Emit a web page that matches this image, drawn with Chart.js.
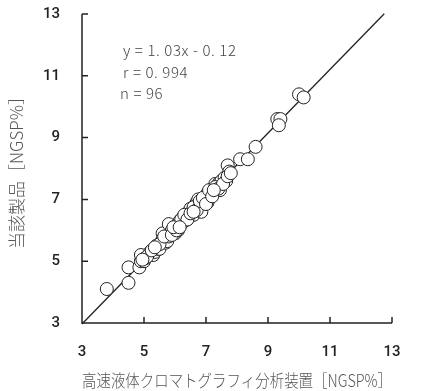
<!DOCTYPE html>
<html><head><meta charset="utf-8">
<script src="https://cdn.jsdelivr.net/npm/chart.js@4.4.0/dist/chart.umd.min.js"></script>
<style>html,body{margin:0;padding:0;background:#fff;}#wrap{width:433px;height:391px;}</style>
</head><body><div id="wrap"><canvas id="c" width="433" height="391"></canvas></div>
<script>
const xTicks = [3, 5, 7, 9, 11, 13];
const yTicks = [3, 5, 7, 9, 11, 13];
const hplcX = [3.8,4.5,4.5,4.85,4.9,4.9,5.0,5.05,5.2,5.2,5.3,5.35,5.4,5.45,5.5,5.55,5.6,5.6,5.7,5.75,5.8,5.8,5.85,5.9,6.0,6.0,6.05,6.1,6.15,6.2,6.25,6.3,6.35,6.4,6.45,6.5,6.55,6.6,6.65,6.7,6.75,6.8,6.85,6.9,6.95,7.0,7.05,7.05,7.1,7.15,7.2,7.3,7.35,7.4,7.45,7.5,7.6,7.65,7.7,7.75,8.1,8.35,8.6,9.3,9.4,9.35,10.0,10.15,5.1,5.25,5.5,5.65,5.9,6.05,6.2,6.3,6.4,6.5,6.6,6.7,6.8,6.9,7.0,7.1,7.2,7.3,7.4,7.55,7.7,7.8,4.95,5.35,5.95,6.15,6.6,7.25];
const productY = [4.1,4.3,4.8,4.8,5.0,5.2,5.0,5.1,5.3,5.2,5.2,5.3,5.5,5.4,5.4,5.6,5.9,5.7,5.6,5.65,5.8,6.2,5.9,6.0,5.9,6.1,6.15,6.0,6.3,6.2,6.4,6.3,6.45,6.5,6.6,6.7,6.6,6.5,6.8,6.9,7.0,6.7,6.6,6.9,7.0,7.1,7.2,6.9,7.2,7.1,7.25,7.5,7.3,7.5,7.3,7.6,7.7,7.6,8.1,7.9,8.3,8.3,8.7,9.6,9.6,9.4,10.4,10.3,5.15,5.35,5.55,5.8,5.85,6.0,6.35,6.5,6.35,6.55,6.75,6.65,6.95,7.05,6.85,7.3,7.1,7.4,7.35,7.5,7.75,7.85,5.05,5.45,6.1,6.1,6.6,7.3];
const fitX = [3, 12.75];
const fitY = [2.97, 13.01];
const statLines = ["y = 1. 03x - 0. 12", "r = 0. 994", "n = 96"];
const xTitle = "高速液体クロマトグラフィ分析装置［NGSP%］";
const yTitle = "当該製品［NGSP%］";

const pts = hplcX.map((x, i) => ({x: x, y: productY[i]}));
const fit = fitX.map((x, i) => ({x: x, y: fitY[i]}));

const tickFont = {family: "Roboto, 'Liberation Sans', sans-serif", size: 15, weight: 500};
const titleFont = {family: "'Noto Sans CJK JP', 'Noto Sans', sans-serif", size: 17, weight: 300};

const decor = {
  id: 'decor',
  afterDatasetsDraw(chart) {
    const ctx = chart.ctx;
    const xs = chart.scales.x, ys = chart.scales.y;
    const a = chart.chartArea;
    ctx.save();
    ctx.strokeStyle = '#222';
    ctx.lineWidth = 1.5;
    ctx.beginPath();
    ctx.moveTo(a.left, ys.getPixelForValue(13));
    ctx.lineTo(a.left, a.bottom);
    ctx.lineTo(xs.getPixelForValue(13), a.bottom);
    xTicks.forEach(v => { const p = xs.getPixelForValue(v); ctx.moveTo(p, a.bottom); ctx.lineTo(p, a.bottom - 6); });
    yTicks.forEach(v => { const p = ys.getPixelForValue(v); ctx.moveTo(a.left, p); ctx.lineTo(a.left + 6, p); });
    ctx.stroke();
    ctx.fillStyle = '#444';
    ctx.font = "300 15px 'Noto Sans CJK JP', 'Noto Sans', sans-serif";
    ctx.letterSpacing = '0.6px';
    ctx.textBaseline = 'middle';
    ctx.fillText(statLines[0], 123, 50);
    ctx.fillText(statLines[1], 123, 72);
    ctx.fillText(statLines[2], 120, 93);
    ctx.restore();
  }
};

new Chart(document.getElementById('c'), {
  type: 'scatter',
  data: {
    datasets: [
      {data: pts, order: 0, pointRadius: 6.5, pointHoverRadius: 6.5, pointBackgroundColor: '#fff', pointBorderColor: '#222', pointBorderWidth: 1},
      {type: 'line', data: fit, order: 1, borderColor: '#222', borderWidth: 1.3, pointRadius: 0, fill: false, clip: false}
    ]
  },
  options: {
    responsive: false, animation: false,
    layout: {padding: {left: 0, top: 14, right: 41, bottom: 0}},
    plugins: {legend: {display: false}, tooltip: {enabled: false}},
    scales: {
      x: {
        type: 'linear', min: 3, max: 13,
        afterFit(s) { s.height = 68; s.paddingLeft = 0; s.paddingRight = 0; },
        afterBuildTicks(s) { s.ticks = xTicks.map(v => ({value: v})); },
        grid: {display: false}, border: {display: false},
        ticks: {font: tickFont, color: '#222', padding: 12, maxRotation: 0},
        title: {display: true, text: xTitle, font: titleFont, color: '#555', padding: {top: 0, bottom: 0}}
      },
      y: {
        type: 'linear', min: 3, max: 13,
        afterFit(s) { s.width = 82; s.paddingTop = 0; s.paddingBottom = 0; },
        afterBuildTicks(s) { s.ticks = yTicks.map(v => ({value: v})); },
        grid: {display: false}, border: {display: false},
        ticks: {font: tickFont, color: '#222', padding: 14},
        title: {display: true, text: yTitle, font: titleFont, color: '#555', padding: {top: 6, bottom: 0}}
      }
    }
  },
  plugins: [decor]
});
</script></body></html>
